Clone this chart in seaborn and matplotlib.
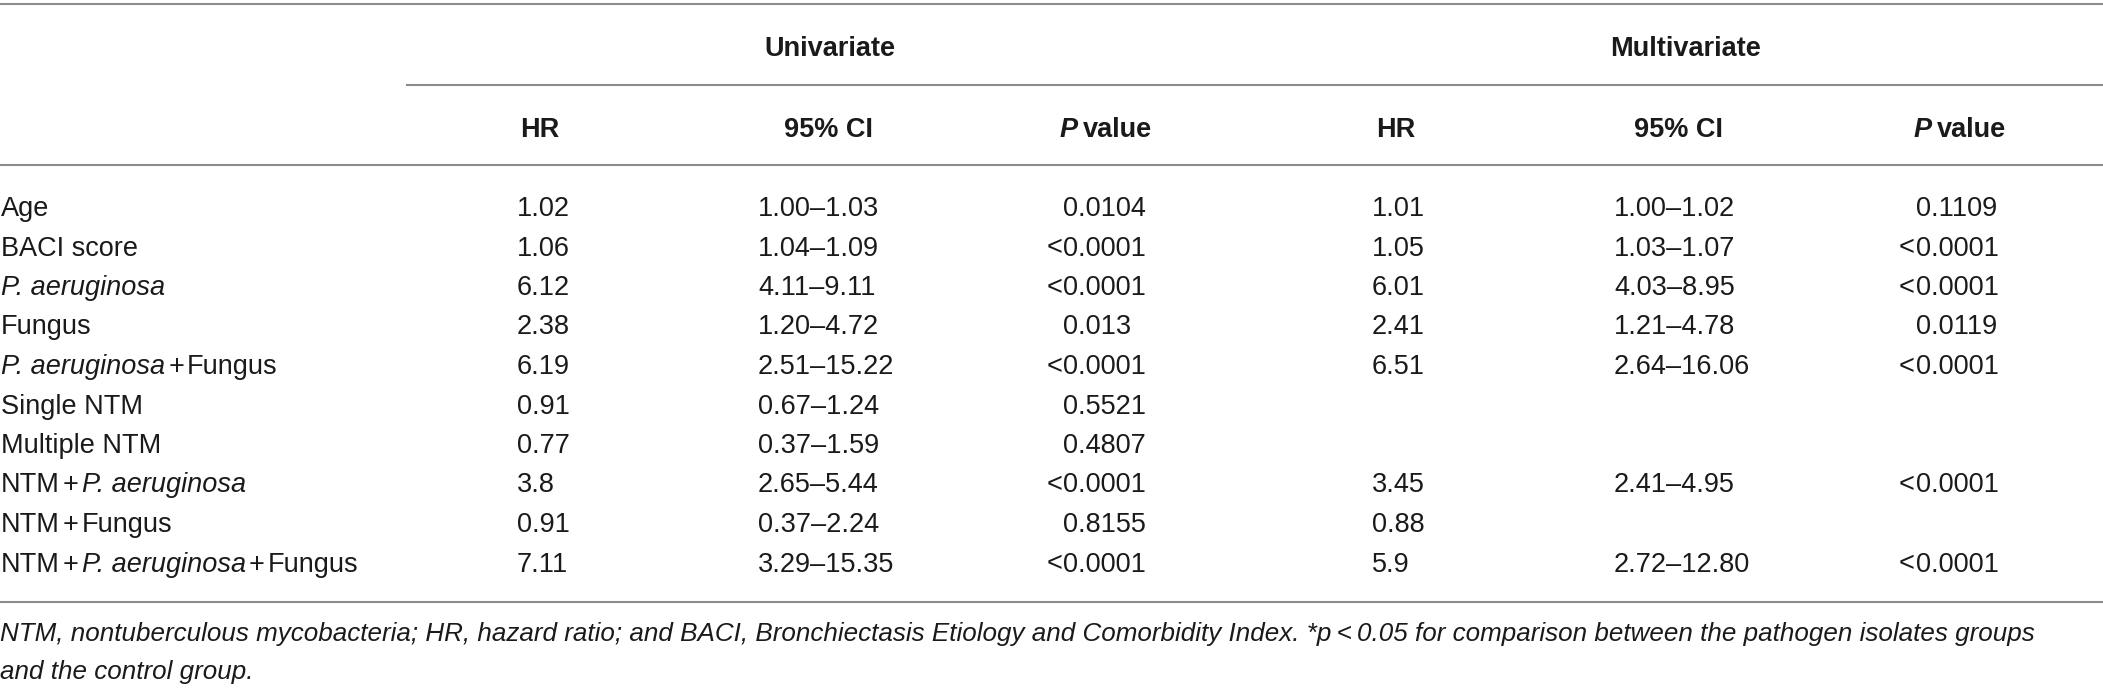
import matplotlib
matplotlib.use("Agg")
import matplotlib.pyplot as plt
from matplotlib import font_manager
import seaborn as sns

# Table contents
row_labels = [
    [("Age", False)],
    [("BACI score", False)],
    [("P. aeruginosa", True)],
    [("Fungus", False)],
    [("P. aeruginosa", True), ("+", False), ("Fungus", False)],
    [("Single NTM", False)],
    [("Multiple NTM", False)],
    [("NTM", False), ("+", False), ("P. aeruginosa", True)],
    [("NTM", False), ("+", False), ("Fungus", False)],
    [("NTM", False), ("+", False), ("P. aeruginosa", True), ("+", False), ("Fungus", False)],
]
uni_hr = ["1.02", "1.06", "6.12", "2.38", "6.19", "0.91", "0.77", "3.8", "0.91", "7.11"]
uni_ci = ["1.00–1.03", "1.04–1.09", "4.11–9.11", "1.20–4.72", "2.51–15.22",
          "0.67–1.24", "0.37–1.59", "2.65–5.44", "0.37–2.24", "3.29–15.35"]
uni_p = ["0.0104", "<0.0001", "<0.0001", "0.013", "<0.0001",
         "0.5521", "0.4807", "<0.0001", "0.8155", "<0.0001"]
multi_hr = ["1.01", "1.05", "6.01", "2.41", "6.51", "", "", "3.45", "0.88", "5.9"]
multi_ci = ["1.00–1.02", "1.03–1.07", "4.03–8.95", "1.21–4.78", "2.64–16.06",
            "", "", "2.41–4.95", "", "2.72–12.80"]
multi_p = ["0.1109", "<0.0001", "<0.0001", "0.0119", "<0.0001",
           "", "", "<0.0001", "", "<0.0001"]
group_titles = ["Univariate", "Multivariate"]
footnote = [
    "NTM, nontuberculous mycobacteria; HR, hazard ratio; and BACI, Bronchiectasis Etiology "
    "and Comorbidity Index. *p\u2009<\u20090.05 for comparison between the pathogen isolates groups",
    "and the control group.",
]

sns.set_theme(style="white")
families = ["Liberation Sans", "DejaVu Sans"]
plt.rcParams["font.family"] = families


def fprops(bold=False, italic=False, size=19.5):
    return font_manager.FontProperties(family=families,
                                       weight="bold" if bold else "normal",
                                       style="italic" if italic else "normal", size=size)


W, H = 2103, 690
fig = plt.figure(figsize=(W / 100, H / 100), dpi=100)
ax = fig.add_axes([0, 0, 1, 1])
ax.set_xlim(0, W)
ax.set_ylim(H, 0)
ax.axis("off")
renderer = fig.canvas.get_renderer()

fs = 19.5
# footnote is set a bit smaller so the first line ends near the right rule
probe = ax.text(0, 0, footnote[0], fontproperties=fprops(italic=True, size=fs))
pw = probe.get_window_extent(renderer).width
probe.remove()
fs_note = min(fs, fs * 2040 / pw)

txt_color = "#1a1a1a"
line_color = "#8c8c8c"


def rich(x, y, parts, bold=False, gap=3):
    # draw pieces one after another, italic where flagged
    for s, it in parts:
        t = ax.text(x, y, s, fontproperties=fprops(bold, it, fs), color=txt_color,
                    va="baseline", ha="left")
        x += t.get_window_extent(renderer).width + gap


def cell(x, y, s, ha="left", bold=False):
    ax.text(x, y, s, fontproperties=fprops(bold, False, fs), color=txt_color,
            va="baseline", ha=ha)


def pval(x, y, s):
    if s.startswith("<"):
        cell(x - 1, y, "<", ha="right")
        s = s[1:]
    cell(x, y, s)


# rules
for x0, yl in [(0, 4), (406, 85), (0, 165), (0, 602)]:
    ax.plot([x0, W], [yl, yl], color=line_color, lw=1.5, solid_capstyle="butt")

# group titles
for title, xc in zip(group_titles, [830, 1685]):
    cell(xc, 56, title, ha="center", bold=True)

# column headers
for xc in [540, 1396]:
    cell(xc, 137, "HR", ha="center", bold=True)
for xc in [829, 1678]:
    cell(xc, 137, "95% CI", ha="center", bold=True)
for xl in [1060, 1914]:
    rich(xl, 137, [("P", True), ("value", False)], bold=True, gap=5)

# body
base0, step = 216, 39.5
cols = [(517, uni_hr), (758, uni_ci), (1372, multi_hr), (1614, multi_ci)]
for i, lab in enumerate(row_labels):
    y = base0 + step * i
    rich(1, y, lab)
    for xl, vals in cols:
        if vals[i]:
            cell(xl, y, vals[i])
    if uni_p[i]:
        pval(1063, y, uni_p[i])
    if multi_p[i]:
        pval(1916, y, multi_p[i])

# footnote
for j, line in enumerate(footnote):
    ax.text(0, 641 + 38 * j, line, fontproperties=fprops(False, True, fs_note),
            color=txt_color, va="baseline", ha="left")

fig.savefig("out.png", dpi=100, facecolor="white")
